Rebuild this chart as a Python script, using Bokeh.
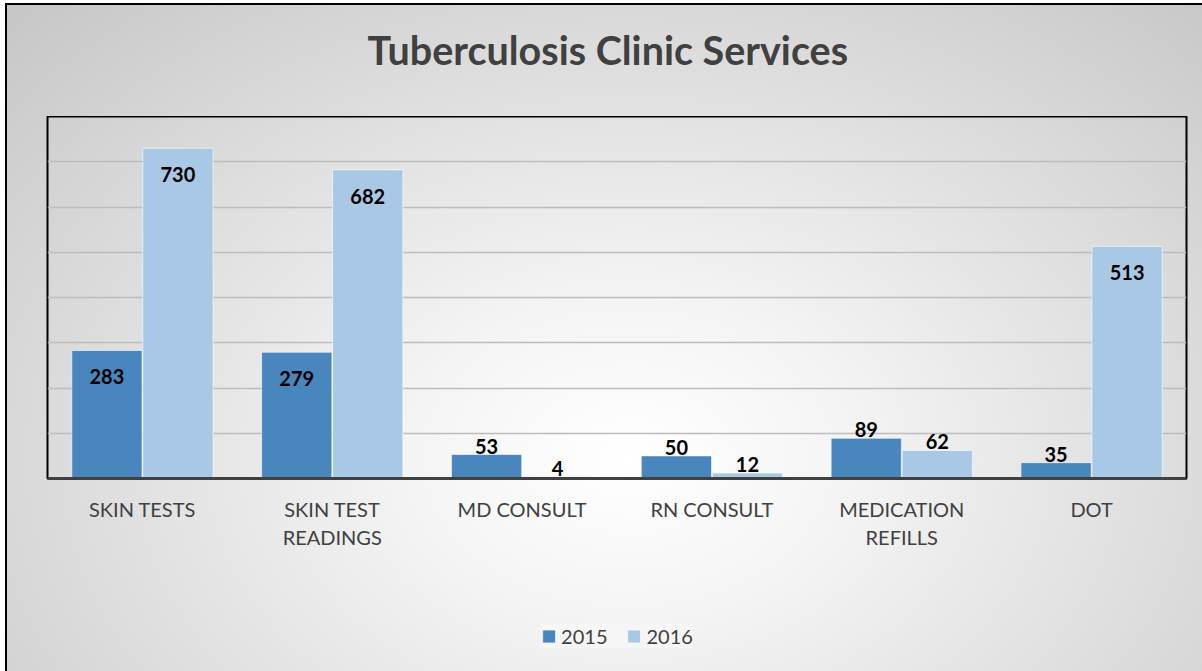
from bokeh.plotting import figure
from bokeh.layouts import column
from bokeh.models import ColumnDataSource, Legend, LegendItem, Title, FactorRange
from bokeh.transform import dodge
from bokeh.core.properties import value
from bokeh.embed import file_html
from bokeh.resources import INLINE

categories = ["SKIN TESTS", "SKIN TEST\nREADINGS", "MD CONSULT", "RN CONSULT", "MEDICATION\nREFILLS", "DOT"]
series_2015 = [283, 279, 53, 50, 89, 35]
series_2016 = [730, 682, 4, 12, 62, 513]
series_names = ["2015", "2016"]
y_ticks = [0, 100, 200, 300, 400, 500, 600, 700, 800]
title_text = "Tuberculosis Clinic Services"

FONT = "Lato"
C2015 = "#4a86be"
C2016 = "#a9c8e5"


def label_cols(vals):
    offs, bases = [], []
    for v in vals:
        if v >= 200:
            offs.append(19)
            bases.append("top")
        else:
            offs.append(-1)
            bases.append("bottom")
    return offs, bases


o15, b15 = label_cols(series_2015)
o16, b16 = label_cols(series_2016)
src = ColumnDataSource(dict(
    cat=categories, v15=series_2015, v16=series_2016,
    t15=[str(v) for v in series_2015], t16=[str(v) for v in series_2016],
    o15=o15, b15=b15, o16=o16, b16=b16,
))


def blank(fig):
    fig.background_fill_color = None
    fig.border_fill_color = None
    fig.outline_line_color = None
    fig.xgrid.visible = False
    fig.ygrid.visible = False


# ---- title strip
tf = figure(width=1195, height=111, output_backend="svg", toolbar_location=None,
            x_axis_location=None, y_axis_location=None,
            min_border_left=40, min_border_right=16, min_border_top=0, min_border_bottom=0)
blank(tf)
tf.title = Title(text=title_text, align="left", text_font=FONT,
                 text_font_size="39.5px", text_font_style="bold", text_color="#404040",
                 standoff=37, offset=320)

# ---- main chart
x_range = FactorRange(*categories)
p = figure(frame_width=1139, frame_height=362, x_range=x_range, y_range=(0, 800),
           output_backend="svg", toolbar_location=None,
           min_border_left=40, min_border_right=16, min_border_top=0, min_border_bottom=122)
p.background_fill_color = None
p.border_fill_color = None

W = 0.37
D = 0.187
r15 = p.vbar(x=dodge("cat", -D, range=x_range), top="v15", width=W, source=src,
             fill_color=C2015, line_color="#ffffff", line_alpha=0.6, line_width=1)
r16 = p.vbar(x=dodge("cat", D, range=x_range), top="v16", width=W, source=src,
             fill_color=C2016, line_color="#ffffff", line_alpha=0.6, line_width=1)

p.text(x=dodge("cat", -D, range=x_range), y="v15", text="t15", source=src,
       text_align="center", text_baseline="b15", y_offset="o15",
       text_font=value(FONT), text_font_size="20px", text_font_style="bold", text_color="#000000")
p.text(x=dodge("cat", D, range=x_range), y="v16", text="t16", source=src,
       text_align="center", text_baseline="b16", y_offset="o16",
       text_font=value(FONT), text_font_size="20px", text_font_style="bold", text_color="#000000")

x_range.range_padding = 0
p.xgrid.visible = False
p.ygrid.grid_line_color = "#bdbdbd"
p.ygrid.grid_line_width = 1.5
p.yaxis.visible = False
p.yaxis.ticker = y_ticks

p.xaxis.axis_line_color = "#404040"
p.xaxis.axis_line_width = 3
p.xaxis.major_tick_line_color = None
p.xaxis.minor_tick_line_color = None
p.xaxis.major_label_text_font = FONT
p.xaxis.major_label_text_font_size = "20px"
p.xaxis.major_label_text_color = "#404040"
p.xaxis.major_label_standoff = 12

p.outline_line_color = "#000000"
p.outline_line_width = 2

# ---- legend strip
lf = figure(width=1195, height=71, x_range=x_range, y_range=(0, 800),
            output_backend="svg", toolbar_location=None,
            x_axis_location=None, y_axis_location=None,
            min_border_left=0, min_border_right=0, min_border_top=0, min_border_bottom=0)
blank(lf)
l15 = lf.vbar(x=dodge("cat", -D, range=x_range), top="v15", width=W, source=src,
              fill_color=C2015, line_color="#ffffff", line_alpha=0.6, visible=False)
l16 = lf.vbar(x=dodge("cat", D, range=x_range), top="v16", width=W, source=src,
              fill_color=C2016, line_color="#ffffff", line_alpha=0.6, visible=False)

legend = Legend(items=[LegendItem(label=series_names[0], renderers=[l15]),
                       LegendItem(label=series_names[1], renderers=[l16])],
                orientation="horizontal", location="center",
                label_text_font=FONT, label_text_font_size="20px", label_text_color="#404040",
                glyph_width=16, glyph_height=16, spacing=18, label_standoff=5,
                background_fill_color="#f6f6f6", background_fill_alpha=0.8,
                inactive_fill_alpha=0.0,
                border_line_color=None, margin=0, padding=12)
lf.add_layout(legend, "center")

lay = column(tf, p, lf, spacing=0)
lay.styles = {
    "background-image": "radial-gradient(ellipse farthest-corner at 52% 68%, #ffffff 0%, #f4f4f4 25%, #c6c6c6 100%)",
    "border-left": "2px solid #000",
    "border-top": "2px solid #000",
    "margin-left": "5px",
    "margin-top": "3px",
}

open("out.html", "w").write(file_html(lay, INLINE))
